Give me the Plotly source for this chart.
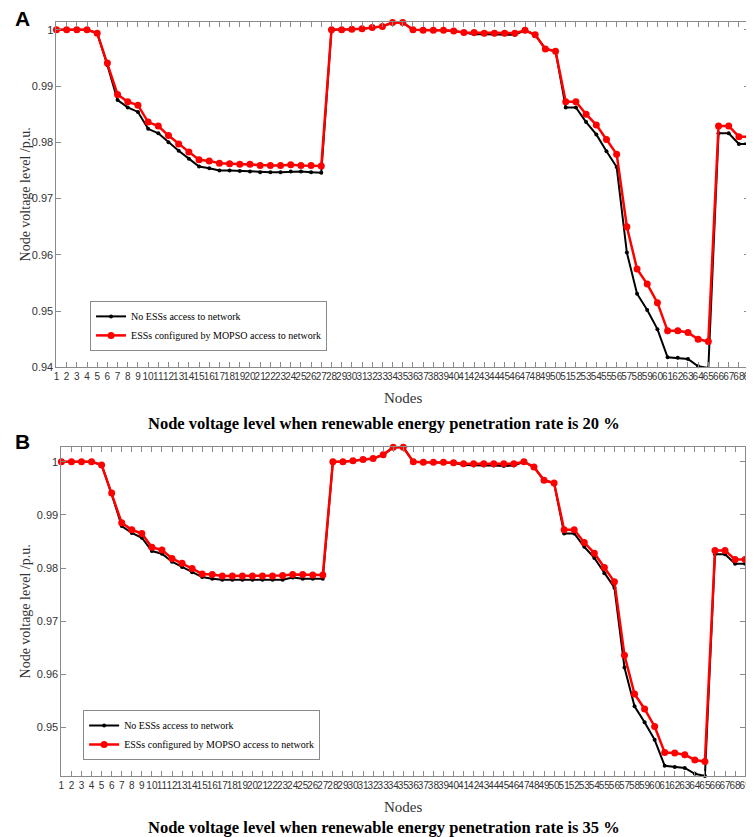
import plotly.graph_objects as go

# Node numbers
nodes = list(range(1, 70))

# Panel A: renewable penetration 20 %
a_no_ess = [1.0, 1.0, 1.0, 1.0, 0.9994, 0.9937, 0.9875, 0.9862, 0.9854, 0.9824,
            0.9816, 0.9800, 0.9785, 0.9771, 0.9757, 0.9754, 0.9750, 0.9750, 0.9749, 0.9748,
            0.9747, 0.9747, 0.9747, 0.9748, 0.9748, 0.9747, 0.9746, 1.0, 1.0, 1.0001,
            1.0002, 1.0004, 1.0006, 1.0013, 1.0013, 1.0, 0.9999, 0.9999, 0.9999, 0.9998,
            0.9995, 0.9992, 0.9992, 0.9992, 0.9992, 0.9991, 0.9999, 0.9991, 0.9966, 0.9962,
            0.9862, 0.9862, 0.9836, 0.9814, 0.9784, 0.9756, 0.9604, 0.9531, 0.9502, 0.9468,
            0.9418, 0.9417, 0.9415, 0.9402, 0.9399, 0.9816, 0.9816, 0.9797, 0.9797]
a_mopso = [1.0, 1.0, 1.0, 1.0, 0.9994, 0.9941, 0.9885, 0.9872, 0.9866, 0.9836,
           0.9829, 0.9812, 0.9797, 0.9783, 0.9769, 0.9767, 0.9763, 0.9762, 0.9761, 0.9761,
           0.9759, 0.9759, 0.9759, 0.9760, 0.9759, 0.9759, 0.9758, 1.0, 1.0, 1.0001,
           1.0002, 1.0004, 1.0006, 1.0013, 1.0013, 1.0, 0.9999, 0.9999, 0.9999, 0.9998,
           0.9995, 0.9995, 0.9994, 0.9994, 0.9994, 0.9994, 0.9999, 0.9991, 0.9966, 0.9962,
           0.9872, 0.9872, 0.9850, 0.9831, 0.9805, 0.9779, 0.9650, 0.9575, 0.9548, 0.9515,
           0.9465, 0.9465, 0.9462, 0.9450, 0.9446, 0.9829, 0.9829, 0.9810, 0.9810]

# Panel B: renewable penetration 35 %
b_no_ess = [1.0, 1.0, 1.0, 1.0, 0.9994, 0.9939, 0.9879, 0.9866, 0.9857, 0.9832,
            0.9827, 0.9812, 0.9802, 0.9792, 0.9783, 0.9780, 0.9778, 0.9778, 0.9778, 0.9778,
            0.9778, 0.9778, 0.9778, 0.9782, 0.9780, 0.9780, 0.9780, 1.0, 1.0, 1.0002,
            1.0004, 1.0006, 1.0013, 1.0027, 1.0027, 1.0, 0.9999, 0.9999, 0.9999, 0.9998,
            0.9994, 0.9993, 0.9993, 0.9993, 0.9992, 0.9993, 1.0, 0.9990, 0.9965, 0.9960,
            0.9865, 0.9865, 0.9840, 0.9819, 0.9790, 0.9763, 0.9613, 0.9540, 0.9510, 0.9477,
            0.9428, 0.9426, 0.9424, 0.9413, 0.9409, 0.9826, 0.9826, 0.9808, 0.9808]
b_mopso = [1.0, 1.0, 1.0, 1.0, 0.9994, 0.9941, 0.9885, 0.9872, 0.9865, 0.9839,
           0.9834, 0.9818, 0.9809, 0.9799, 0.9789, 0.9788, 0.9785, 0.9785, 0.9785, 0.9785,
           0.9785, 0.9785, 0.9786, 0.9788, 0.9788, 0.9787, 0.9787, 1.0, 1.0, 1.0002,
           1.0004, 1.0006, 1.0013, 1.0027, 1.0027, 1.0, 0.9999, 0.9999, 0.9999, 0.9998,
           0.9996, 0.9996, 0.9996, 0.9996, 0.9996, 0.9996, 1.0, 0.9990, 0.9965, 0.9960,
           0.9872, 0.9872, 0.9848, 0.9828, 0.9801, 0.9774, 0.9636, 0.9563, 0.9535, 0.9502,
           0.9453, 0.9452, 0.9449, 0.9439, 0.9436, 0.9833, 0.9833, 0.9816, 0.9816]

yticks = [0.94, 0.95, 0.96, 0.97, 0.98, 0.99, 1.0]
ytick_text = ['0.94', '0.95', '0.96', '0.97', '0.98', '0.99', '1']

W, H = 754, 837
serif = 'Liberation Serif'
sans = 'Liberation Sans'
axis_grey = '#8a8a8a'

fig = go.Figure()

for i, (black, red) in enumerate([(a_no_ess, a_mopso), (b_no_ess, b_mopso)]):
    xa = 'x' if i == 0 else 'x2'
    ya = 'y' if i == 0 else 'y2'
    leg = 'legend' if i == 0 else 'legend2'
    fig.add_trace(go.Scatter(x=nodes, y=black, mode='lines+markers', name='No ESSs access to network',
                             line=dict(color='black', width=2), marker=dict(color='black', size=4),
                             xaxis=xa, yaxis=ya, legend=leg, cliponaxis=False))
    fig.add_trace(go.Scatter(x=nodes, y=red, mode='lines+markers', name='ESSs configured by MOPSO access to network',
                             line=dict(color='#ff0000', width=2.5), marker=dict(color='#ff0000', size=7),
                             xaxis=xa, yaxis=ya, legend=leg, cliponaxis=False))

xaxis_style = dict(tickmode='array', tickvals=nodes, ticktext=[str(n) for n in nodes], tickangle=0,
                   ticks='inside', ticklen=5, tickcolor=axis_grey, showline=True, linecolor=axis_grey,
                   linewidth=1, mirror='ticks', showgrid=False, zeroline=False,
                   tickfont=dict(family=sans, size=10, color='#333333'))
yaxis_style = dict(tickmode='array', tickvals=yticks, ticktext=ytick_text,
                   ticks='inside', ticklen=5, tickcolor=axis_grey, showline=True, linecolor=axis_grey,
                   linewidth=1, mirror='ticks', showgrid=False, zeroline=False,
                   tickfont=dict(family=sans, size=11, color='#333333'))

# panel positions in pixels: (left, right, top, bottom)
pa = (46, 747, 14, 362)
pb = (51, 743, 442, 774)

legend_style = dict(xanchor='left', yanchor='top', bgcolor='white', bordercolor=axis_grey, borderwidth=1,
                    font=dict(family=serif, size=10, color='black'), itemwidth=30, tracegroupgap=0)

fig.update_layout(
    width=W, height=H, margin=dict(l=0, r=0, t=0, b=0),
    paper_bgcolor='white', plot_bgcolor='white', showlegend=True,
    xaxis=dict(xaxis_style, domain=[pa[0] / W, pa[1] / W], range=[1, 69], anchor='y'),
    yaxis=dict(yaxis_style, domain=[1 - pa[3] / H, 1 - pa[2] / H], range=[0.94, 1.0014], anchor='x'),
    xaxis2=dict(xaxis_style, domain=[pb[0] / W, pb[1] / W], range=[1, 69], anchor='y2'),
    yaxis2=dict(yaxis_style, domain=[1 - pb[3] / H, 1 - pb[2] / H], range=[0.9408, 1.0028], anchor='x2'),
    legend=dict(legend_style, x=80 / W, y=1 - 295 / H),
    legend2=dict(legend_style, x=73 / W, y=1 - 707 / H),
)

annotations = []
for p, title_y, title in [(pa, 418, 'Node voltage level when renewable energy penetration rate is 20 %'),
                          (pb, 825, 'Node voltage level when renewable energy penetration rate is 35 %')]:
    annotations.append(dict(text='Node voltage level /p.u.', x=15 / W, y=1 - (p[2] + p[3]) / 2 / H,
                            xref='paper', yref='paper', xanchor='center', yanchor='middle',
                            textangle=-90, showarrow=False,
                            font=dict(family=serif, size=14, color='#333333')))
    annotations.append(dict(text='Nodes', x=(p[0] + p[1]) / 2 / W, y=1 - (p[3] + 31) / H,
                            xref='paper', yref='paper', xanchor='center', yanchor='middle', showarrow=False,
                            font=dict(family=serif, size=15, color='#333333')))
    annotations.append(dict(text='<b>' + title + '</b>', x=0.5, y=1 - title_y / H,
                            xref='paper', yref='paper', xanchor='center', yanchor='middle', showarrow=False,
                            font=dict(family=serif, size=16.5, color='black')))
annotations.append(dict(text='<b>A</b>', x=2 / W, y=1 - 11 / H, xref='paper', yref='paper',
                        xanchor='left', yanchor='middle', showarrow=False,
                        font=dict(family=sans, size=21, color='black')))
annotations.append(dict(text='<b>B</b>', x=2 / W, y=1 - 437 / H, xref='paper', yref='paper',
                        xanchor='left', yanchor='middle', showarrow=False,
                        font=dict(family=sans, size=21, color='black')))
fig.update_layout(annotations=annotations)

fig.write_html('out.html')
